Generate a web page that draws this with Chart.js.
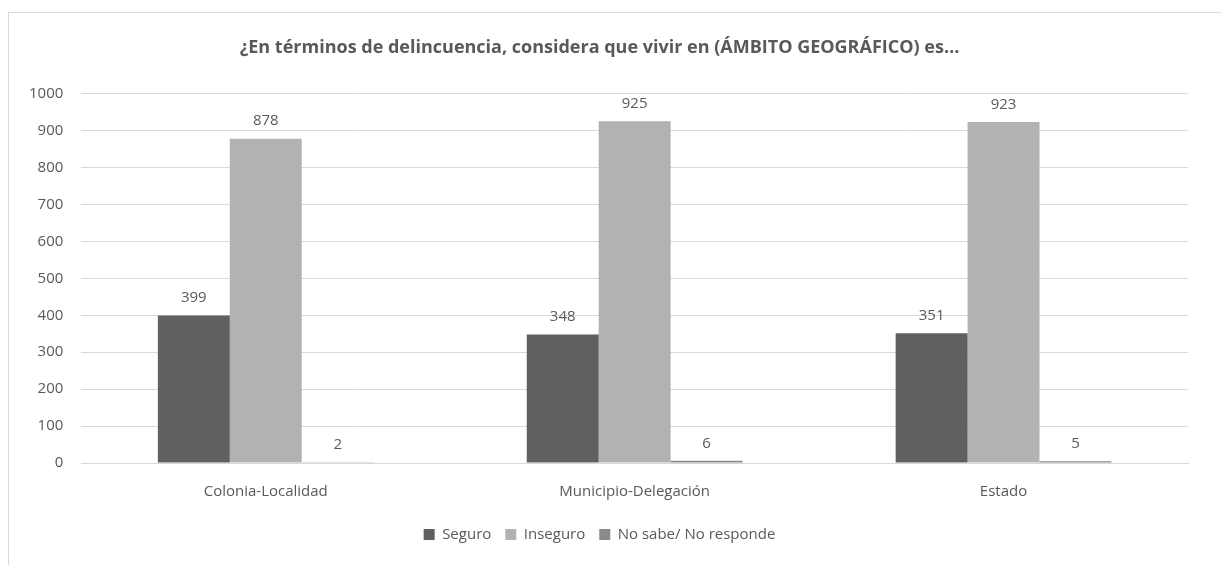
<!DOCTYPE html>
<html>
<head>
<meta charset="utf-8">
<script src="https://cdn.jsdelivr.net/npm/chart.js@4/dist/chart.umd.min.js"></script>
<style>
  html, body { margin: 0; padding: 0; background: #fff; overflow: hidden; }
  #frame {
    position: absolute; left: 8px; top: 12px;
    width: 1240px; height: 600px;
    border: 1px solid #d9d9d9;
  }
  #wrap { position: absolute; left: 0; top: 0; width: 1221px; height: 565px; }
</style>
</head>
<body>
<div id="frame"></div>
<div id="wrap"><canvas id="chart" width="1221" height="565"></canvas></div>
<script>
// =============================
// DATA
// =============================

const categories = ['Colonia-Localidad', 'Municipio-Delegación', 'Estado'];
const seguro = [399, 348, 351];
const inseguro = [878, 925, 923];
const noSabe = [2, 6, 5];
const seriesNames = ['Seguro', 'Inseguro', 'No sabe/ No responde'];
const seriesColors = ['#606060', '#b2b2b2', '#8a8a8a'];
const yTicks = [0, 100, 200, 300, 400, 500, 600, 700, 800, 900, 1000];

const textColor = '#595959';
const fontFamily = "'Open Sans', 'Noto Sans', sans-serif";


// =============================
// VALUE LABELS
// =============================

const valueLabels = {
  id: 'valueLabels',
  afterDatasetsDraw(chart) {
    const ctx = chart.ctx;
    ctx.save();
    ctx.fillStyle = textColor;
    ctx.font = '15px ' + fontFamily;
    ctx.textAlign = 'center';
    ctx.textBaseline = 'bottom';
    chart.data.datasets.forEach((ds, i) => {
      chart.getDatasetMeta(i).data.forEach((bar, j) => {
        ctx.fillText(ds.data[j], bar.x, bar.y - 10);
      });
    });
    ctx.restore();
  }
};


// =============================
// BAR CHART
// =============================

new Chart(document.getElementById('chart'), {

  type: 'bar',

  data: {
    labels: categories,
    datasets: [seguro, inseguro, noSabe].map((values, i) => ({
      label: seriesNames[i],
      data: values,
      backgroundColor: seriesColors[i],
      barPercentage: 1,
      categoryPercentage: 0.585
    }))
  },

  options: {
    responsive: false,
    animation: false,
    layout: {
      padding: { left: 11, right: 33, top: 37, bottom: 13 }
    },
    plugins: {
      title: {
        display: true,
        text: '¿En términos de delincuencia, considera que vivir en (ÁMBITO GEOGRÁFICO) es…',
        color: textColor,
        font: { family: fontFamily, size: 18, weight: 'bold' },
        padding: { top: 0, bottom: 35 }
      },
      legend: {
        position: 'bottom',
        labels: {
          color: textColor,
          font: { family: fontFamily, size: 15 },
          boxWidth: 11,
          boxHeight: 11,
          padding: 14
        }
      },
      tooltip: { enabled: false }
    },
    scales: {
      x: {
        grid: { display: false },
        border: { color: '#d9d9d9' },
        ticks: {
          color: textColor,
          font: { family: fontFamily, size: 15 },
          padding: 12
        }
      },
      y: {
        min: 0,
        max: 1000,
        afterBuildTicks: axis => {
          axis.ticks = yTicks.map(v => ({ value: v }));
        },
        grid: { color: '#d9d9d9', drawTicks: false },
        border: { display: false },
        ticks: {
          color: textColor,
          font: { family: fontFamily, size: 15 },
          padding: 18,
          callback: value => String(value)
        }
      }
    }
  },

  plugins: [valueLabels]

});
</script>
</body>
</html>
